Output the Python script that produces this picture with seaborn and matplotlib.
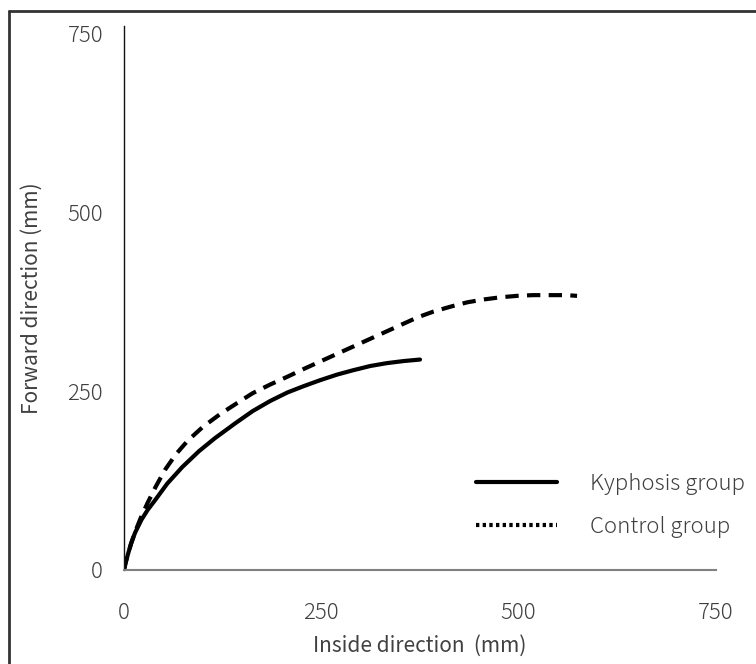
import matplotlib
matplotlib.use("Agg")
import matplotlib.pyplot as plt
import seaborn as sns
import pandas as pd
from matplotlib.lines import Line2D

# Data (mm)
kyphosis_x = [0, 2, 5, 9, 14, 22, 30, 39, 55, 74, 95, 115, 141, 163, 185, 207, 228, 248, 270, 290, 312, 333, 355, 375]
kyphosis_y = [0, 10, 22, 37, 52, 70, 84, 97, 121, 144, 166, 184, 205, 222, 236, 248, 257, 265, 273, 279, 285, 289, 292, 294]
control_x = [0, 2, 5, 9, 14, 22, 30, 40, 52, 66, 81, 100, 122, 143, 163, 185, 207, 228, 248, 270, 290, 310, 328, 350, 372, 392, 414, 435, 456, 477, 498, 518, 540, 560, 574]
control_y = [0, 10, 22, 37, 53, 75, 94, 116, 140, 162, 181, 200, 218, 233, 247, 259, 270, 281, 291, 302, 312, 322, 331, 342, 353, 361, 368, 374, 378, 381, 383, 384, 384, 384, 383]
series_names = ["Kyphosis group", "Control group"]
ticks = [0, 250, 500, 750]

sns.set_theme(style="white")
plt.rcParams["font.family"] = ["Noto Sans CJK JP", "DejaVu Sans"]
plt.rcParams["font.weight"] = "light"

txt = "#404040"
fig = plt.figure(figsize=(7.56, 6.64), dpi=100)
ax = fig.add_axes([124 / 756, 1 - 570 / 664, 592 / 756, 544 / 664])

df_k = pd.DataFrame({"x": kyphosis_x, "y": kyphosis_y})
df_c = pd.DataFrame({"x": control_x, "y": control_y})
sns.lineplot(data=df_k, x="x", y="y", ax=ax, sort=False, estimator=None,
             color="black", linewidth=3.0, solid_capstyle="round", solid_joinstyle="round")
sns.lineplot(data=df_c, x="x", y="y", ax=ax, sort=False, estimator=None,
             color="black", linewidth=3.0, linestyle=(0, (3.2, 2.0)))

ax.set_xlim(0, 750)
ax.set_ylim(0, 760)
ax.set_xticks(ticks)
ax.set_yticks(ticks)
ax.set_xticklabels([str(t) for t in ticks])
ax.set_yticklabels([str(t) for t in ticks])
ax.tick_params(axis="both", length=0, labelsize=16, colors=txt)
ax.tick_params(axis="x", pad=23)
ax.tick_params(axis="y", pad=15)

for s in ["top", "right"]:
    ax.spines[s].set_visible(False)
ax.spines["left"].set_color("#111111")
ax.spines["left"].set_linewidth(1.0)
ax.spines["bottom"].set_color("#808080")
ax.spines["bottom"].set_linewidth(1.5)

ax.set_xlabel("Inside direction  (mm)", fontsize=15, color=txt)
ax.set_ylabel("Forward direction (mm)", fontsize=15, color=txt)
ax.xaxis.set_label_coords(0.5, -(646 - 570) / 544, transform=ax.transAxes)
ax.yaxis.set_label_coords(-(124 - 32) / 592, 0.5, transform=ax.transAxes)
ax.xaxis.label.set_va("center")
ax.yaxis.label.set_va("center")

handles = [Line2D([], [], color="black", linewidth=3.0),
           Line2D([], [], color="black", linewidth=3.0, linestyle=(0, (0.8, 0.8)))]
leg = ax.legend(handles, series_names, loc="lower left", bbox_to_anchor=(0.56, 0.022),
                frameon=False, fontsize=16, handlelength=3.65, handletextpad=1.5,
                labelspacing=0.95, labelcolor=txt)

# Figure border (top and left visible in crop)
fig.add_artist(Line2D([9 / 756, 9 / 756], [0, 1 - 11 / 664], transform=fig.transFigure,
                      color="#333333", linewidth=2.0))
fig.add_artist(Line2D([9 / 756, 1], [1 - 11 / 664, 1 - 11 / 664], transform=fig.transFigure,
                      color="#333333", linewidth=2.0))

fig.savefig("out.png", dpi=100)
